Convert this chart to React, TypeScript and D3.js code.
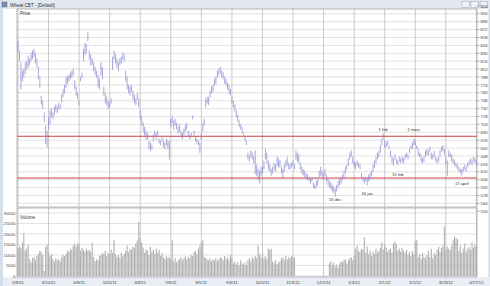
import React from 'react';
import * as d3 from 'd3';

const dateLabels = ['2/8/11','3/10/11','4/8/11','5/10/11','6/8/11','7/8/11','8/5/11','9/6/11','10/5/11','11/3/11','12/2/11','1/3/12','2/1/12','3/1/12','3/29/12','4/27/12'];
const priceTicks = [914,900,886,872,858,844,830,816,802,788,774,760,746,732,718,704,690,676,662,648,634,620,606,592,578,564,550];
const volumeTicks = [0,5000,10000,15000,20000,25000,30000];
const levels = [683, 609];
const annIndex = [251, 272, 218, 240, 261, 305];
const annText = ['1 feb', '2 mars', '15 dec', '16 jan', '15 feb', '17 april'];
const annPrice = [692, 692, 568, 579, 613, 597];

const highs = [853,836,815,800,804,815,818,827,822,832,836,839,832,822,807,790,756,747,726,703,
694,717,730,734,726,737,741,737,744,741,758,768,775,790,790,793,797,800,804,783,
772,761,747,790,797,839,850,847,868,836,829,822,815,807,800,793,786,815,807,772,
761,754,747,744,751,825,836,829,822,815,822,825,832,829,800,790,775,772,775,765,
758,751,761,751,730,719,708,701,694,690,676,673,669,687,694,690,694,680,676,683,
676,673,680,676,676,715,719,712,715,708,701,705,694,690,698,705,708,694,687,690,
721,694,683,680,676,673,690,708,715,751,754,754,765,772,775,786,790,800,804,807,
800,797,790,786,779,775,768,754,747,740,730,722,712,705,701,690,683,676,655,650,
659,655,648,659,634,626,623,630,630,641,662,655,641,634,626,630,637,634,648,645,
641,630,626,634,641,648,637,634,637,641,634,659,655,652,637,630,626,623,619,616,
612,609,612,602,598,605,609,623,630,623,619,626,616,609,605,602,598,595,591,598,
605,609,612,616,623,630,634,645,655,659,648,641,637,641,637,634,619,612,609,612,
609,616,619,623,634,641,648,655,659,668,680,689,676,673,676,668,659,648,645,652,
645,641,648,645,648,645,652,655,652,662,668,673,680,676,668,662,655,652,645,648,
659,662,659,666,655,652,659,648,645,648,659,666,668,662,648,641,659,655,652,645,
641,637,634,630,626,626,630,634,630,637,641,645,641,648,645,641];
const lows = [832,815,765,779,786,793,800,804,808,815,818,822,811,804,783,768,738,730,708,668,
662,694,703,715,712,719,726,723,730,730,741,751,758,768,775,779,783,786,790,765,
754,747,737,779,786,815,825,829,850,818,807,808,797,790,786,768,765,790,783,754,
740,737,730,733,740,800,818,811,804,797,808,811,818,815,779,765,758,754,761,747,
741,737,747,733,712,701,690,683,676,676,659,655,659,673,680,676,683,669,666,673,
662,659,666,659,641,698,705,694,701,694,687,690,680,676,683,690,694,683,676,680,
712,683,673,669,666,652,676,690,701,733,740,737,751,758,761,772,775,786,790,793,
786,783,775,772,765,758,754,740,733,726,715,708,698,694,687,680,673,666,641,637,
645,641,634,614,612,605,598,612,616,623,641,634,623,619,612,616,623,619,630,627,
627,616,609,619,627,630,623,623,627,630,623,641,637,634,623,616,612,609,605,605,
602,598,602,591,588,591,595,609,612,609,605,612,602,595,591,588,584,581,575,584,
591,595,598,605,609,616,623,630,641,645,634,627,623,630,627,623,609,602,598,602,
595,602,605,612,619,627,634,641,645,653,666,676,662,662,666,659,645,634,630,641,
634,630,637,634,637,634,641,645,641,652,659,659,666,666,659,648,645,637,634,637,
645,648,648,655,641,641,645,637,634,637,645,655,655,648,634,612,645,645,637,634,
630,627,623,619,616,612,619,623,619,627,630,634,630,637,634,630];
const volumes = [13000,14000,13500,15800,20500,12000,13000,15000,8000,6500,8500,9000,7500,9500,10500,12000,11500,10000,2500,14000,
15000,11000,9500,10500,8000,7000,8500,7500,8000,7000,9000,10000,9500,10500,12000,11500,13000,12500,14500,15500,
14000,15800,15000,12000,13500,12500,11500,13000,12000,12500,11500,15800,9000,7000,8000,7500,9500,10000,11000,10500,
12000,9500,11000,10500,12500,11000,17000,10500,9000,10000,8500,11000,9500,10500,12000,14500,11500,13000,12500,14000,
13500,15500,17000,25700,18000,16000,13500,11000,12500,12000,10000,14000,11500,12500,10500,13000,11000,12500,9500,11000,
9000,8000,9500,8500,9000,8000,17000,7000,8500,6500,7500,8000,9000,7500,8500,9500,8000,9000,8500,10000,
9500,11500,12000,10500,13000,14500,16000,17000,9000,8500,8000,7500,8500,7000,8000,7500,8500,7000,8000,9000,
8500,7500,9500,8000,9000,7500,10000,8500,6000,7000,5500,6500,5000,7500,6000,5500,6500,5000,7500,8500,
7000,9000,8000,9500,8500,14500,10500,9000,11000,8500,9500,8000,13000,12500,13000,7000,6000,7500,5500,6500,
7000,8500,9000,7500,9500,8000,9000,8500,9500,9000,8500,0,0,0,0,0,0,0,0,0,
0,0,0,0,0,0,0,0,0,0,0,0,0,0,6000,7000,5000,6500,4500,5500,
4000,6000,7000,6500,7500,8000,6000,7500,8500,9000,7500,9500,13000,14500,12000,11500,13000,12500,18500,11000,
14000,10500,12000,9500,11500,10500,13000,11000,12000,13500,16000,12500,15000,13500,11500,12500,13000,11000,15500,16500,
15000,12000,13000,11500,13500,12000,11000,12500,10000,11500,9500,12000,10500,16500,17000,9000,10500,8000,11000,9000,
8500,10000,12000,9000,13000,8500,11000,10000,12500,14000,11500,13500,14500,23500,12500,14000,13000,12500,14500,17000,
19000,18000,17500,12000,14500,11000,13000,15500,11500,13000,14000,12500,16000,13500,15000,14000];

const W = 490, H = 286;
const L = 17, R = 477;
const PT = 9, PB = 207;
const VT = 208, VB = 277;
const FONT = 'Liberation Sans, Arial, sans-serif';

export default function App() {
  const n = highs.length;
  const x = d3.scaleLinear().domain([0, n - 1]).range([18, 476.4]);
  const y = d3.scaleLinear().domain([550, 900]).range([211.3, 13.8]);
  const yv = d3.scaleLinear().domain([0, 30000]).range([276, 213]);
  const gridIdx = dateLabels.map((_, k) => k * 21);
  const bw = 1.1;

  return (
    <div style={{ position: 'fixed', left: 0, top: 0, width: W, height: H }}>
      <svg width={W} height={H} viewBox={`0 0 ${W} ${H}`} style={{ display: 'block', fontFamily: FONT }}>
        <rect x={0} y={0} width={W} height={H} fill="#ffffff" />
        {/* title bar */}
        <rect x={0} y={0} width={W} height={9} fill="#e3e8ef" />
        <rect x={0} y={0} width={3} height={H} fill="#d5dfea" />
        <rect x={2} y={2} width={5} height={5} fill="#7d8fb0" stroke="#52627e" strokeWidth={0.4} />
        <text x={10} y={6.6} fontSize={4.6} fill="#333">Wheat CBT - [Default]</text>
        {[462, 471, 480].map((bx, k) => (
          <rect key={k} x={bx} y={1.5} width={7.5} height={6} fill="#eef1f5" stroke="#9aa6b6" strokeWidth={0.5} />
        ))}
        <rect x={R + 11.5} y={9} width={1.5} height={H - 9} fill="#cfd9e5" />
        {/* bottom strip */}
        <rect x={3} y={VB} width={W - 3} height={H - VB} fill="#e9eef4" />

        {/* price panel */}
        <rect x={L} y={PT} width={R - L} height={PB - PT} fill="#fff" />
        {priceTicks.map((p) => (
          y(p) > PT && y(p) < PB ? (
            <line key={'pg' + p} x1={L} x2={R} y1={y(p)} y2={y(p)} stroke="#d6d6d6" strokeWidth={0.7} />
          ) : null
        ))}
        {gridIdx.map((gi) => (
          <line key={'pv' + gi} x1={x(gi)} x2={x(gi)} y1={PT} y2={PB} stroke="#bdbdbd" strokeWidth={0.8} />
        ))}
        {levels.map((lv) => (
          <line key={'lv' + lv} x1={L} x2={R} y1={y(lv)} y2={y(lv)} stroke="#c8282e" strokeWidth={0.9} />
        ))}
        {highs.map((h, i) => (
          <line key={'b' + i} x1={x(i)} x2={x(i)} y1={y(h) + 0.6} y2={y(lows[i]) - 0.6} stroke="#8a8ad2" strokeWidth={0.75} />
        ))}
        {annIndex.map((ai, k) => (
          <text key={'an' + k} x={x(ai)} y={y(annPrice[k])} fontSize={4.2} textAnchor="middle" fill="#333">{annText[k]}</text>
        ))}
        <text x={20} y={14.5} fontSize={4.5} fill="#333">Price</text>
        <rect x={L} y={PT} width={R - L} height={PB - PT} fill="none" stroke="#9c9c9c" strokeWidth={0.7} />

        {/* volume panel */}
        <rect x={L} y={VT} width={R - L} height={VB - VT} fill="#fff" />
        {volumeTicks.map((v) => (
          <line key={'vg' + v} x1={L} x2={R} y1={yv(v)} y2={yv(v)} stroke="#d6d6d6" strokeWidth={0.7} />
        ))}
        {gridIdx.map((gi) => (
          <line key={'vv' + gi} x1={x(gi)} x2={x(gi)} y1={VT} y2={VB} stroke="#bdbdbd" strokeWidth={0.8} />
        ))}
        {volumes.map((v, i) => (
          v > 0 ? <rect key={'v' + i} x={x(i) - bw / 2} y={yv(v)} width={bw} height={yv(0) - yv(v)} fill="#b0b0b0" /> : null
        ))}
        <text x={20} y={219} fontSize={4.5} fill="#333">Volume</text>
        <rect x={L} y={VT} width={R - L} height={VB - VT} fill="none" stroke="#9c9c9c" strokeWidth={0.7} />

        {/* right price axis */}
        {priceTicks.map((p) => (
          <g key={'pt' + p}>
            <line x1={R} x2={R + 2.5} y1={y(p)} y2={y(p)} stroke="#777" strokeWidth={0.6} />
            <text x={R + 3.5} y={y(p) + 1.6} fontSize={4.3} fill="#444">{p}</text>
          </g>
        ))}
        {/* left volume axis */}
        {volumeTicks.map((v) => (
          <text key={'vt' + v} x={15.5} y={yv(v) + 1.6} fontSize={4.3} textAnchor="end" fill="#444">{v}</text>
        ))}
        {/* date axis */}
        {gridIdx.map((gi, k) => (
          <text key={'dl' + k} x={x(gi)} y={283.5} fontSize={4.3} textAnchor="middle" fill="#444">{dateLabels[k]}</text>
        ))}
      </svg>
    </div>
  );
}
